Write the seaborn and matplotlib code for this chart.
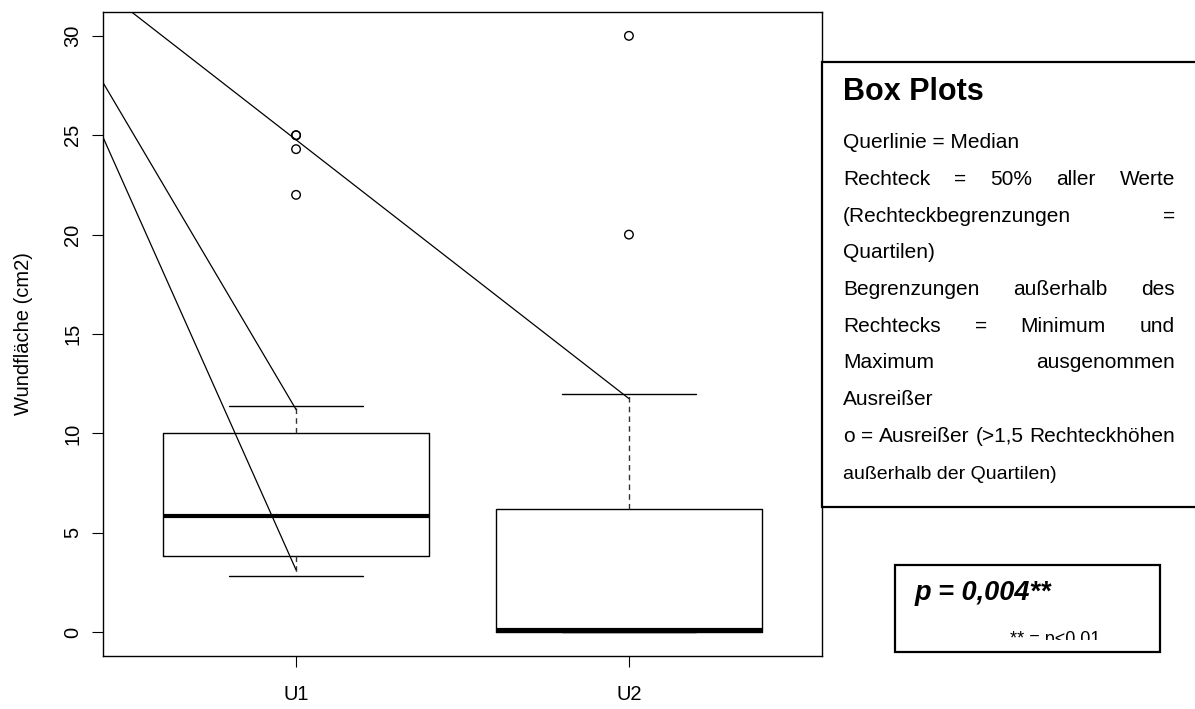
import matplotlib
matplotlib.use("Agg")
import matplotlib.pyplot as plt
import seaborn as sns
import pandas as pd
from matplotlib.patches import Rectangle
from matplotlib.transforms import Bbox

# values (R style boxplot summary)
categories = ["U1", "U2"]
q1 = [3.85, 0.0]
medians = [5.82, 0.1]
q3 = [10.0, 6.2]
whisker_low = [2.82, 0.0]
whisker_high = [11.4, 12.0]
outlier_group = ["U1", "U1", "U1", "U1", "U2", "U2"]
outlier_value = [22.0, 24.3, 25.0, 25.0, 20.0, 30.0]
y_ticks = [0, 5, 10, 15, 20, 25, 30]

# hand drawn pointer lines (category position, value)
pointer_from = [(-0.58, 24.9), (-0.58, 27.65), (-0.494, 31.2)]
pointer_to = [(0.0, 3.13), (0.0, 11.2), (1.0, 11.75)]

legend_title = "Box Plots"
legend_lines = [
    ("Querlinie = Median", False),
    ("Rechteck = 50% aller Werte", True),
    ("(Rechteckbegrenzungen =", True),
    ("Quartilen)", False),
    ("Begrenzungen außerhalb des", True),
    ("Rechtecks = Minimum und", True),
    ("Maximum ausgenommen", True),
    ("Ausreißer", False),
    ("o = Ausreißer (>1,5 Rechteckhöhen", True),
    ("außerhalb der Quartilen)", False),
]
p_text = "p = 0,004**"
p_note = "** = p<0.01"

sns.set_style("white")
plt.rcParams["font.family"] = ["Liberation Sans", "DejaVu Sans"]
plt.rcParams["text.color"] = "black"
plt.rcParams["axes.labelcolor"] = "black"
plt.rcParams["xtick.color"] = "black"
plt.rcParams["ytick.color"] = "black"

W, H = 1195, 709
fig = plt.figure(figsize=(W / 100, H / 100), dpi=100)
ax = fig.add_axes([103 / W, 1 - 656 / H, (822 - 103) / W, (656 - 12) / H])

stats = [
    dict(label=c, q1=a, med=m, q3=b, whislo=lo, whishi=hi, fliers=[])
    for c, a, m, b, lo, hi in zip(categories, q1, medians, q3, whisker_low, whisker_high)
]
ax.bxp(stats, positions=range(len(categories)), widths=0.8, capwidths=0.4,
       showfliers=False,
       boxprops=dict(color="black", lw=1.0),
       medianprops=dict(color="black", lw=3.0, solid_capstyle="butt"),
       whiskerprops=dict(color="#333333", lw=1.0, linestyle=(0, (4, 3))),
       capprops=dict(color="black", lw=1.0))

outliers = pd.DataFrame({
    "pos": [categories.index(g) for g in outlier_group],
    "value": outlier_value,
})
sns.scatterplot(data=outliers, x="pos", y="value", ax=ax, marker="o", s=38,
                facecolor="none", edgecolor="black", linewidth=1.0, zorder=3)

for (x0, y0), (x1, y1) in zip(pointer_from, pointer_to):
    ax.plot([x0, x1], [y0, y1], color="black", lw=0.9)

ax.set_xlim(-0.58, 1.58)
ax.set_ylim(-1.2, 31.2)
ax.set_xticks(range(len(categories)))
ax.set_xticklabels(categories)
ax.set_yticks(y_ticks)
ax.set_yticklabels([str(t) for t in y_ticks], rotation=90, va="center")
ax.set_xlabel("")
ax.set_ylabel("Wundfläche (cm2)", fontsize=14.5)
ax.yaxis.set_label_coords(-0.097, 0.5)
ax.tick_params(axis="both", length=8, width=0.8, color="black", direction="out",
               labelsize=14.5, left=True, bottom=True)
ax.tick_params(axis="x", pad=13)
ax.tick_params(axis="y", pad=7)
for s in ax.spines.values():
    s.set_visible(True)
    s.set_color("black")
    s.set_linewidth(1.0)

# legend text box on the right
fig.add_artist(Rectangle((822 / W, 1 - 507 / H), (1300 - 822) / W, (507 - 62) / H,
                         transform=fig.transFigure, facecolor="white",
                         edgecolor="black", lw=1.6, zorder=5))
fig.text(843 / W, 1 - 100 / H, legend_title, fontsize=22, fontweight="bold",
         va="baseline", zorder=6)

renderer = fig.canvas.get_renderer()
x_left, x_right = 843, 1175
for i, (line, justify) in enumerate(legend_lines):
    y = 1 - (148.3 + 36.7 * i) / H
    size = 14 if i == len(legend_lines) - 1 else 15
    if not justify:
        fig.text(x_left / W, y, line, fontsize=size, va="baseline", zorder=6)
        continue
    words = line.split()
    arts = [fig.text(0, y, w, fontsize=size, va="baseline", zorder=6) for w in words]
    widths = [a.get_window_extent(renderer).width for a in arts]
    gap = (x_right - x_left - sum(widths)) / (len(words) - 1)
    x = x_left
    for a, w in zip(arts, widths):
        a.set_x(x / W)
        x += w + gap

# p value box
fig.add_artist(Rectangle((895 / W, 1 - 652 / H), (1160 - 895) / W, (652 - 565) / H,
                         transform=fig.transFigure, facecolor="white",
                         edgecolor="black", lw=1.6, zorder=5))
fig.text(915 / W, 1 - 600 / H, p_text, fontsize=19.5, fontweight="bold",
         fontstyle="italic", va="baseline", zorder=6)
note = fig.text(1010 / W, 1 - 644 / H, p_note, fontsize=13, va="baseline", zorder=6)
note.set_clip_box(Bbox([[895, H - 640], [1160, H - 565]]))
note.set_clip_on(True)

fig.savefig("out.png", dpi=100)
